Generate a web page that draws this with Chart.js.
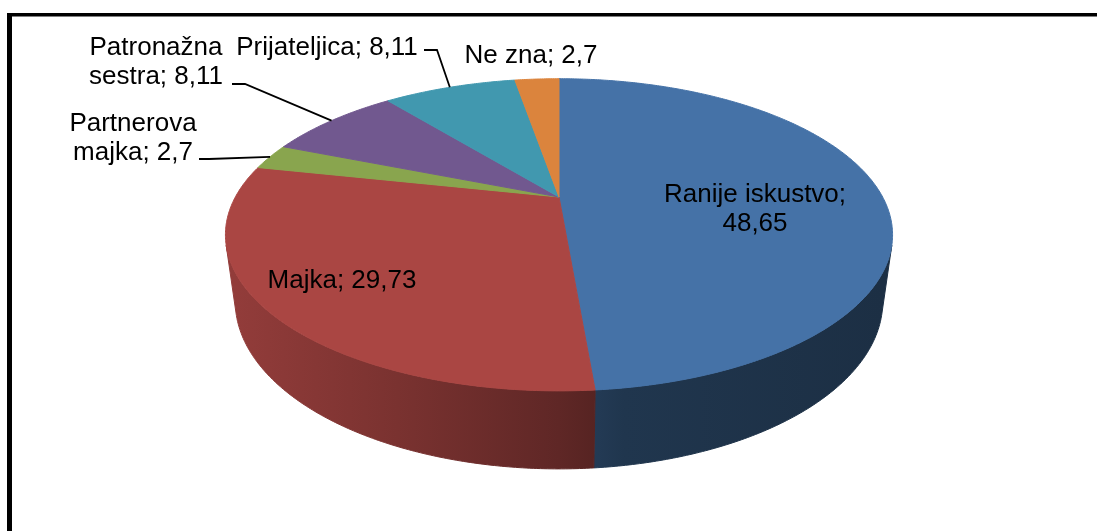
<!DOCTYPE html>
<html>
<head>
<meta charset="utf-8">
<script src="https://cdn.jsdelivr.net/npm/chart.js@4.4.0/dist/chart.umd.min.js"></script>
<style>
  html, body { margin: 0; padding: 0; background: #fff; }
  #wrap { width: 1097px; height: 531px; }
</style>
</head>
<body>
<div id="wrap"><canvas id="pieChart" width="1097" height="531"></canvas></div>
<script>
// Data
const categories = ['Ranije iskustvo', 'Majka', 'Partnerova majka', 'Patronažna sestra', 'Prijateljica', 'Ne zna'];
const shares = [48.65, 29.73, 2.7, 8.11, 8.11, 2.7];
const sliceColors = ['#4572A7', '#AA4643', '#89A54E', '#71588F', '#4198AF', '#DB843D'];

// Where the data labels sit (center x, first baseline) and how they wrap
const labelSpots = [
  { x: 755, y: 202, wrap: 'value' },
  { x: 342, y: 288, wrap: 'none' },
  { x: 133, y: 131, wrap: 'word', leader: [[199, 159], [209, 159]] },
  { x: 156, y: 55, wrap: 'word', leader: [[232, 84], [245, 84]] },
  { x: 327, y: 55, wrap: 'none', leader: [[424, 50], [437, 50]] },
  { x: 531, y: 63, wrap: 'none' }
];

// Excel-like 3D view: tilt, camera distance (in radii), thickness, width stretch
const VIEW = { tilt: 27 * Math.PI / 180, dist: 3.68, depth: 0.232, stretch: 2.068 };
const FONT = '26px "Liberation Sans", Arial, sans-serif';

function project(el, X, Z, H) {
  const s = Math.sin(VIEW.tilt), c = Math.cos(VIEW.tilt);
  const yc = Z * s + H * c;
  const zc = VIEW.dist - Z * c + H * s;
  const k = el.outerRadius * VIEW.stretch * VIEW.dist / zc;
  return { x: el.x + X * k, y: el.y + yc * k };
}

function shade(hex, f) {
  const n = parseInt(hex.slice(1), 16);
  const r = Math.round(((n >> 16) & 255) * f);
  const g = Math.round(((n >> 8) & 255) * f);
  const b = Math.round((n & 255) * f);
  return `rgb(${r},${g},${b})`;
}

function formatValue(v) {
  return String(v).replace('.', ',');
}

/**
 * Context wrapper: lets the arc element draw itself, but bends its path
 * onto the tilted disc.
 */
function perspectiveContext(ctx, el) {
  const put = (px, py, move) => {
    const p = project(el, (px - el.x) / el.outerRadius, (py - el.y) / el.outerRadius, 0);
    if (move) ctx.moveTo(p.x, p.y); else ctx.lineTo(p.x, p.y);
  };
  const TAU = Math.PI * 2;
  const overrides = {
    moveTo(px, py) { put(px, py, true); },
    lineTo(px, py) { put(px, py, false); },
    arc(cx, cy, r, a0, a1, ccw) {
      let span = ccw ? a0 - a1 : a1 - a0;
      span = span >= TAU ? TAU : ((span % TAU) + TAU) % TAU;
      const steps = Math.max(2, Math.ceil(span / (Math.PI / 360)));
      const dir = ccw ? -1 : 1;
      for (let i = 0; i <= steps; i++) {
        const a = a0 + dir * span * i / steps;
        put(cx + r * Math.cos(a), cy + r * Math.sin(a), false);
      }
    }
  };
  return new Proxy(ctx, {
    get(t, p) {
      if (p in overrides) return overrides[p];
      const v = t[p];
      return typeof v === 'function' ? v.bind(t) : v;
    },
    set(t, p, v) { t[p] = v; return true; }
  });
}

function drawWall(ctx, el, color) {
  // only the part of the rim that faces the camera
  const edge = Math.asin(1 / (VIEW.dist * Math.cos(VIEW.tilt)));
  const a0 = Math.max(el.startAngle, edge);
  const a1 = Math.min(el.endAngle, Math.PI - edge);
  if (a1 <= a0) return;
  const steps = Math.max(2, Math.ceil((a1 - a0) / (Math.PI / 360)));
  ctx.beginPath();
  for (let i = 0; i <= steps; i++) {
    const a = a0 + (a1 - a0) * i / steps;
    const p = project(el, Math.cos(a), Math.sin(a), 0);
    if (i === 0) ctx.moveTo(p.x, p.y); else ctx.lineTo(p.x, p.y);
  }
  for (let i = steps; i >= 0; i--) {
    const a = a0 + (a1 - a0) * i / steps;
    const p = project(el, Math.cos(a), Math.sin(a), VIEW.depth);
    ctx.lineTo(p.x, p.y);
  }
  ctx.closePath();
  const left = el.x - el.outerRadius * VIEW.stretch;
  const right = el.x + el.outerRadius * VIEW.stretch;
  const grad = ctx.createLinearGradient(left, 0, right, 0);
  grad.addColorStop(0, shade(color, 0.86));
  grad.addColorStop(0.25, shade(color, 0.72));
  grad.addColorStop(0.5, shade(color, 0.56));
  grad.addColorStop(0.6, shade(color, 0.47));
  grad.addColorStop(1, shade(color, 0.41));
  ctx.fillStyle = grad;
  ctx.strokeStyle = grad;
  ctx.lineWidth = 1;
  ctx.fill();
  ctx.stroke();
}

const pie3d = {
  id: 'pie3d',
  beforeDatasetsDraw(chart) {
    const ctx = chart.ctx;
    const arcs = chart.getDatasetMeta(0).data;
    ctx.save();
    arcs.forEach((el, i) => drawWall(ctx, el, sliceColors[i]));
    arcs.forEach(el => el.draw(perspectiveContext(ctx, el)));
    ctx.restore();
    return false;
  },
  afterDraw(chart) {
    const ctx = chart.ctx;
    const arcs = chart.getDatasetMeta(0).data;
    ctx.save();

    // frame
    ctx.fillStyle = '#000';
    ctx.fillRect(7, 13, 5, chart.height);
    ctx.fillRect(7, 13, chart.width, 3.5);

    ctx.font = FONT;
    ctx.textAlign = 'center';
    ctx.textBaseline = 'alphabetic';
    ctx.fillStyle = '#000';
    ctx.strokeStyle = '#000';
    ctx.lineWidth = 1.8;

    categories.forEach((name, i) => {
      const spot = labelSpots[i];
      const value = formatValue(shares[i]);
      let lines;
      if (spot.wrap === 'value') {
        lines = [name + ';', value];
      } else if (spot.wrap === 'word') {
        const cut = name.indexOf(' ');
        lines = [name.slice(0, cut), name.slice(cut + 1) + '; ' + value];
      } else {
        lines = [name + '; ' + value];
      }
      lines.forEach((line, j) => ctx.fillText(line, spot.x, spot.y + j * 29));

      if (spot.leader) {
        const el = arcs[i];
        const mid = (el.startAngle + el.endAngle) / 2;
        const end = project(el, Math.cos(mid), Math.sin(mid), 0);
        ctx.beginPath();
        ctx.moveTo(spot.leader[0][0], spot.leader[0][1]);
        ctx.lineTo(spot.leader[1][0], spot.leader[1][1]);
        ctx.lineTo(end.x, end.y);
        ctx.stroke();
      }
    });
    ctx.restore();
  }
};

new Chart(document.getElementById('pieChart'), {
  type: 'pie',
  data: {
    labels: categories,
    datasets: [{
      data: shares,
      backgroundColor: sliceColors,
      borderColor: sliceColors,
      borderWidth: 1,
      clip: false
    }]
  },
  options: {
    responsive: false,
    animation: false,
    events: [],
    layout: {
      padding: { left: 402, right: 381, top: 40, bottom: 177 }
    },
    plugins: {
      legend: { display: false },
      tooltip: { enabled: false }
    }
  },
  plugins: [pie3d]
});
</script>
</body>
</html>
